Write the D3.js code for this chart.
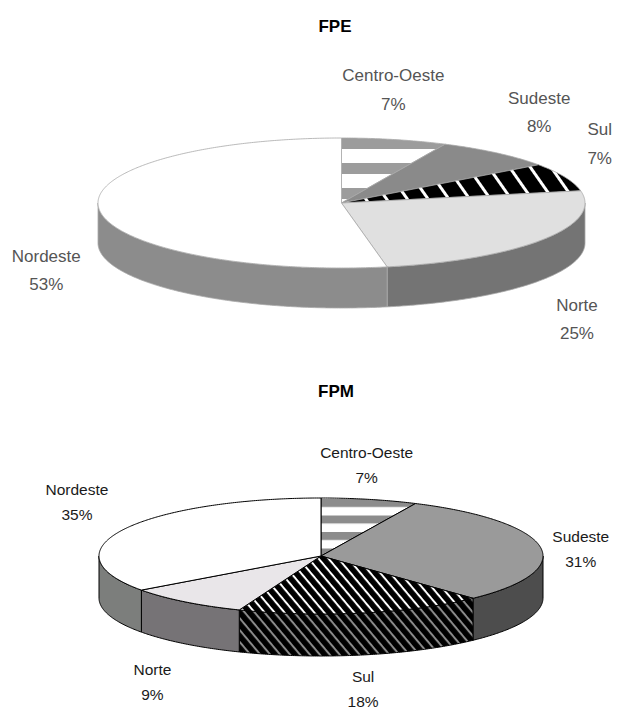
<!DOCTYPE html>
<html><head><meta charset="utf-8">
<script src="https://cdn.jsdelivr.net/npm/d3@7"></script>
<style>body{margin:0;background:#fff}</style>
</head><body><svg id="c" width="619" height="710"></svg>
<script>
// ---- data ----
const regions   = ["Centro-Oeste", "Sudeste", "Sul", "Norte", "Nordeste"];
const fpeValues = [7, 8, 7, 25, 53];
const fpmValues = [7, 31, 18, 9, 35];
const titles    = ["FPE", "FPM"];

// ---- layout / style ----
const charts = [
  { title: titles[0], values: fpeValues, titleX: 335, titleY: 32,
    cx: 341.5, cy: 203, rx: 243.5, ry: 65, depth: 40,
    font: 17, gap: 28.5, textFill: "#555", stroke: "#a8a8a8", sw: 0.8,
    top:  ["url(#fpeCO)", "#8a8a8a", "url(#fpeSul)", "#e0e0e0", "#ffffff"],
    side: ["#8a8a8a", "#666", "#111", "#747474", "#8c8c8c"],
    nudge: [[-10,-25],[17,-24],[-2,-32],[1,43],[-13,43]] },
  { title: titles[1], values: fpmValues, titleX: 336, titleY: 397,
    cx: 321, cy: 556, rx: 222, ry: 58, depth: 42,
    font: 15.5, gap: 25, textFill: "#1a1a1a", stroke: "#000", sw: 1,
    top:  ["url(#fpmCO)", "#9a9a9a", "url(#fpmSulTop)", "#e9e6e9", "#ffffff"],
    side: ["#8c8c8c", "#4d4d4d", "url(#fpmSulSide)", "#767376", "#7c7e7c"],
    nudge: [[-11.5,-11],[1,-7],[-7,21],[-8,33],[-10.6,-25]] }
];

const svg = d3.select("#c");
svg.append("rect").attr("width", 619).attr("height", 710).attr("fill", "#fff");
const defs = svg.append("defs");

function stripes(id, h, y, col, band) {
  const p = defs.append("pattern").attr("id", id).attr("patternUnits", "userSpaceOnUse")
    .attr("width", 10).attr("height", h).attr("y", y);
  p.append("rect").attr("width", 10).attr("height", h).attr("fill", "#fff");
  p.append("rect").attr("width", 10).attr("height", band).attr("fill", col);
}
function hatch(id, h, ang, bg, col, lw) {
  const p = defs.append("pattern").attr("id", id).attr("patternUnits", "userSpaceOnUse")
    .attr("width", 20).attr("height", h).attr("patternTransform", `rotate(${ang})`);
  p.append("rect").attr("width", 20).attr("height", h).attr("fill", bg);
  p.append("rect").attr("width", 20).attr("height", lw).attr("fill", col);
}
stripes("fpeCO", 25, 13, "#9c9c9c", 11);
stripes("fpmCO", 16.5, 4, "#8c8c8c", 8);
hatch("fpeSul", 17, 55, "#000", "#fff", 3);
hatch("fpmSulTop", 7.6, 50, "#000", "#fff", 2);
hatch("fpmSulSide", 7.6, 50, "#000", "#8a8a8a", 2);

const pie = d3.pie().sort(null).value(d => d);
const line = d3.line();

charts.forEach(ch => {
  const arcs = pie(ch.values);
  const pt = (a, dy) => [ch.cx + ch.rx * Math.sin(a), ch.cy - ch.ry * Math.cos(a) + dy];
  const samples = (a0, a1) => {
    const n = Math.max(2, Math.ceil((a1 - a0) / 0.01));
    return d3.range(n + 1).map(i => a0 + (a1 - a0) * i / n);
  };
  const g = svg.append("g");

  // side walls (front half only)
  arcs.forEach((d, i) => {
    const a0 = Math.max(d.startAngle, Math.PI / 2);
    const a1 = Math.min(d.endAngle, 3 * Math.PI / 2);
    if (a1 <= a0) return;
    const s = samples(a0, a1);
    const pts = s.map(a => pt(a, 0)).concat(s.slice().reverse().map(a => pt(a, ch.depth)));
    g.append("path").attr("d", line(pts) + "Z")
      .attr("fill", ch.side[i]).attr("stroke", ch.stroke).attr("stroke-width", ch.sw)
      .attr("stroke-linejoin", "round");
  });

  // top faces
  arcs.forEach((d, i) => {
    const pts = [[ch.cx, ch.cy]].concat(samples(d.startAngle, d.endAngle).map(a => pt(a, 0)));
    g.append("path").attr("d", line(pts) + "Z")
      .attr("fill", ch.top[i]).attr("stroke", ch.stroke).attr("stroke-width", ch.sw)
      .attr("stroke-linejoin", "round");
  });

  // title
  svg.append("text").attr("x", ch.titleX).attr("y", ch.titleY)
    .attr("text-anchor", "middle").attr("font-family", "Liberation Sans, Arial, sans-serif")
    .attr("font-weight", "bold").attr("font-size", 17).attr("fill", "#000").text(ch.title);

  // labels
  const Rx = ch.rx + 40, Ry = ch.ry + 40, cyl = ch.cy + ch.depth / 2;
  arcs.forEach((d, i) => {
    const m = (d.startAngle + d.endAngle) / 2;
    const x = ch.cx + Rx * Math.sin(m) + ch.nudge[i][0];
    const y = cyl - Ry * Math.cos(m) + ch.nudge[i][1];
    const t = svg.append("text").attr("text-anchor", "middle")
      .attr("font-family", "Liberation Sans, Arial, sans-serif")
      .attr("font-size", ch.font).attr("fill", ch.textFill);
    t.append("tspan").attr("x", x).attr("y", y - ch.gap / 2).text(regions[i]);
    t.append("tspan").attr("x", x).attr("y", y + ch.gap / 2).text(d.data + "%");
  });
});
</script></body></html>
